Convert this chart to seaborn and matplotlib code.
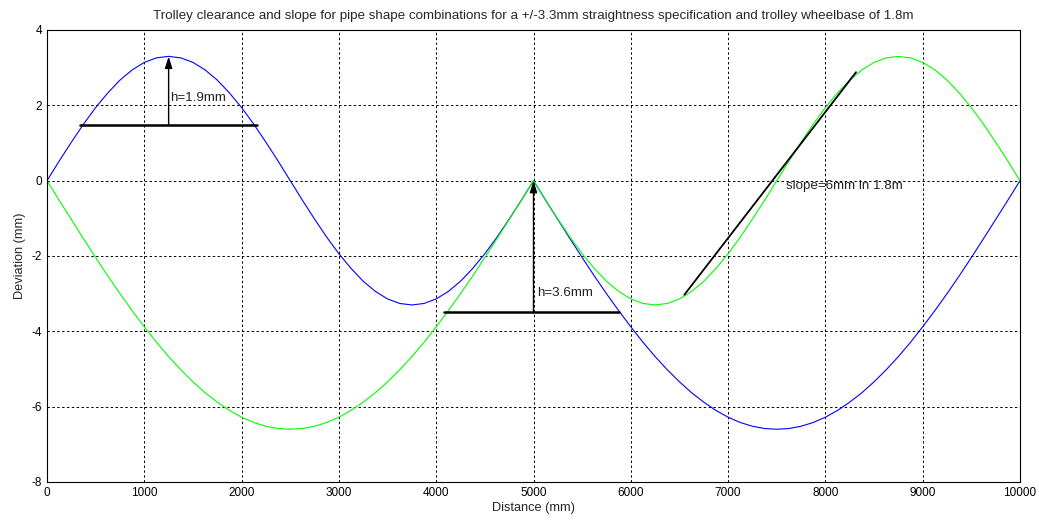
import numpy as np
import pandas as pd
import matplotlib
matplotlib.use("Agg")
import matplotlib.pyplot as plt
import seaborn as sns

# distance along pipe (mm), one sample every 125 mm
distance = list(range(0, 10001, 125))

# pipe shape 1 (blue): S-bend then sag
blue_dev = [0.00, 0.52, 1.02, 1.50, 1.94, 2.33, 2.67, 2.94, 3.14, 3.26,
            3.30, 3.26, 3.14, 2.94, 2.67, 2.33, 1.94, 1.50, 1.02, 0.52,
            0.00, -0.52, -1.02, -1.50, -1.94, -2.33, -2.67, -2.94, -3.14, -3.26,
            -3.30, -3.26, -3.14, -2.94, -2.67, -2.33, -1.94, -1.50, -1.02, -0.52,
            0.00, -0.52, -1.03, -1.54, -2.04, -2.53, -3.00, -3.45, -3.88, -4.29,
            -4.67, -5.02, -5.34, -5.63, -5.88, -6.10, -6.28, -6.42, -6.52, -6.58,
            -6.60, -6.58, -6.52, -6.42, -6.28, -6.10, -5.88, -5.63, -5.34, -5.02,
            -4.67, -4.29, -3.88, -3.45, -3.00, -2.53, -2.04, -1.54, -1.03, -0.52,
            0.00]

# pipe shape 2 (green): sag then S-bend
green_dev = [0.00, -0.52, -1.03, -1.54, -2.04, -2.53, -3.00, -3.45, -3.88, -4.29,
             -4.67, -5.02, -5.34, -5.63, -5.88, -6.10, -6.28, -6.42, -6.52, -6.58,
             -6.60, -6.58, -6.52, -6.42, -6.28, -6.10, -5.88, -5.63, -5.34, -5.02,
             -4.67, -4.29, -3.88, -3.45, -3.00, -2.53, -2.04, -1.54, -1.03, -0.52,
             0.00, -0.52, -1.02, -1.50, -1.94, -2.33, -2.67, -2.94, -3.14, -3.26,
             -3.30, -3.26, -3.14, -2.94, -2.67, -2.33, -1.94, -1.50, -1.02, -0.52,
             0.00, 0.52, 1.02, 1.50, 1.94, 2.33, 2.67, 2.94, 3.14, 3.26,
             3.30, 3.26, 3.14, 2.94, 2.67, 2.33, 1.94, 1.50, 1.02, 0.52,
             0.00]

# trolley (1.8 m wheelbase) positions
trolley1_x = [339, 2158]
trolley1_y = [1.47, 1.47]
trolley2_x = [4080, 5880]
trolley2_y = [-3.49, -3.49]
slope_x = [6550, 8315]
slope_y = [-3.03, 2.88]

# clearance arrows: (x, base y, tip y)
arrows = [(1250, 1.47, 3.30), (5000, -3.49, 0.0)]
labels = [("h=1.9mm", 1262, 2.19), ("h=3.6mm", 5036, -2.98),
          ("slope=6mm in 1.8m", 7600, -0.14)]

title = ("Trolley clearance and slope for pipe shape combinations for a "
         "+/-3.3mm straightness specification and trolley wheelbase of 1.8m")

sns.set_style("white")
plt.rcParams['font.family'] = ['Liberation Sans', 'DejaVu Sans']
plt.rcParams['axes.unicode_minus'] = False

df = pd.DataFrame({"Distance": distance, "blue": blue_dev, "green": green_dev})

fig = plt.figure(figsize=(10.39, 5.21), dpi=100)
ax = fig.add_axes([47 / 1039, 1 - 482 / 521, 973 / 1039, 452 / 521])

sns.lineplot(data=df, x="Distance", y="blue", color="#0000ff", lw=0.8, ax=ax,
             estimator=None, sort=False)
sns.lineplot(data=df, x="Distance", y="green", color="#00ff00", lw=0.8, ax=ax,
             estimator=None, sort=False)

ax.plot(trolley1_x, trolley1_y, color="black", lw=1.8)
ax.plot(trolley2_x, trolley2_y, color="black", lw=1.8)
ax.plot(slope_x, slope_y, color="black", lw=1.3)

for x, y0, y1 in arrows:
    ax.annotate("", xy=(x, y1), xytext=(x, y0),
                arrowprops=dict(arrowstyle="-|>,head_length=0.7,head_width=0.22",
                                color="black", lw=1.0, shrinkA=0, shrinkB=0))

for txt, x, y in labels:
    ax.text(x, y, txt, fontsize=9.6, va="center", ha="left", color="#222222")

ax.set_xlim(0, 10000)
ax.set_ylim(-8, 4)
ax.set_xticks(range(0, 10001, 1000))
ax.set_yticks(range(-8, 5, 2))
ax.grid(True, color="black", linestyle=(0, (2.5, 2.5)), lw=0.7)
ax.tick_params(direction="in", length=4, labelsize=8.5, colors="black")
for s in ax.spines.values():
    s.set_color("black")
    s.set_linewidth(0.8)

ax.set_xlabel("Distance (mm)", fontsize=9.2, labelpad=2)
ax.set_ylabel("Deviation (mm)", fontsize=9.2, labelpad=4)
ax.set_title(title, fontsize=9.6, pad=8)

fig.savefig("out.png", dpi=100)
